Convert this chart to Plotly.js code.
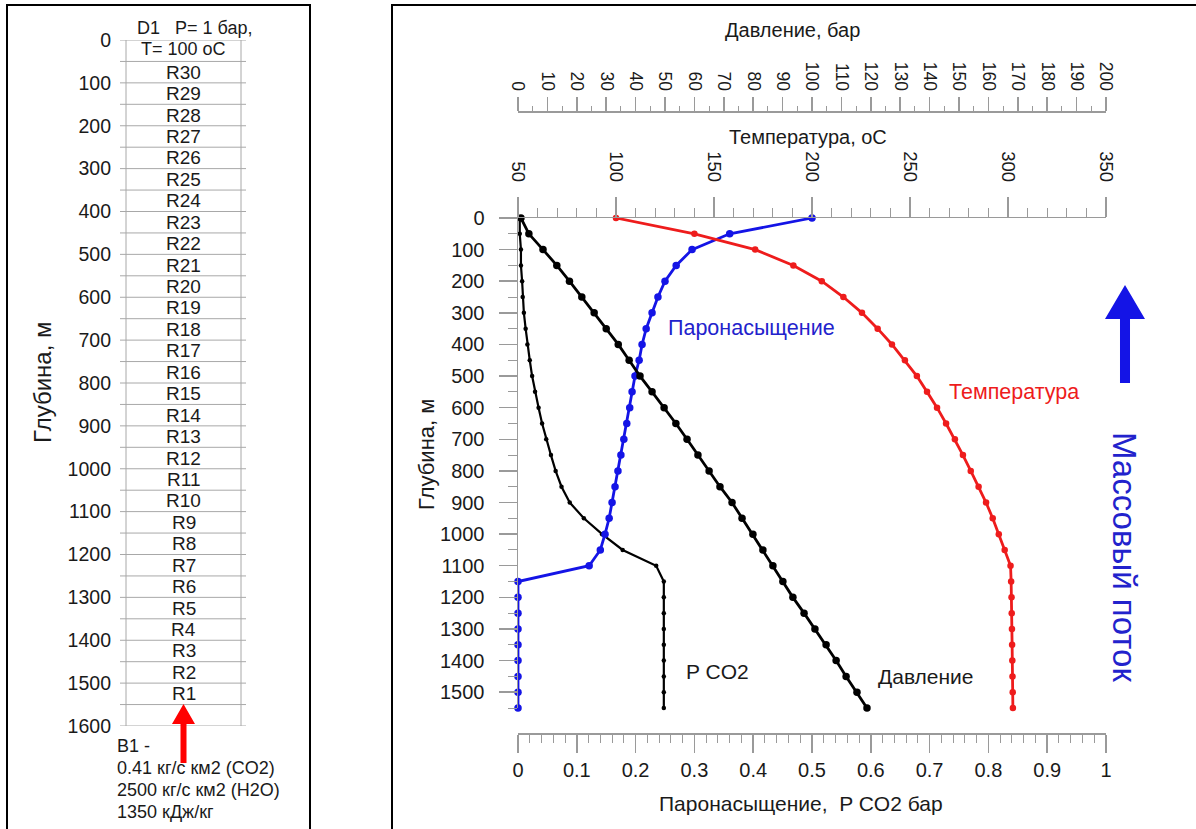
<!DOCTYPE html>
<html>
<head>
<meta charset="utf-8">
<script src="https://cdn.plot.ly/plotly-3.0.1.min.js"></script>
<style>html,body{margin:0;padding:0;background:#fff;}#chart{width:1196px;height:829px;}</style>
</head>
<body>
<div id="chart"></div>
<script>
// ---- data ----
const depth = [0,50,100,150,200,250,300,350,400,450,500,550,600,650,700,750,800,850,900,950,1000,1050,1100,1150,1200,1250,1300,1350,1400,1450,1500,1550];
const temperature = [100,140,171,190.5,205,216,225.5,233.5,240.8,247.4,253.5,258.7,263.8,268.4,272.9,277,281,285,288.8,292.2,295.3,298.3,301.3,301.6,301.8,301.9,302,302.1,302.2,302.3,302.4,302.5];
const pressure = [1,3.7,8.5,13.2,17.5,21.7,25.9,30,34.1,37.8,41.5,45.6,49.7,53.7,57.5,61.2,65,68.7,72.8,76.2,79.9,83.3,86.7,90.1,93.5,97.3,101,104.8,108.2,111.6,115.3,118.7];
const saturation = [0.5,0.36,0.296,0.269,0.25,0.238,0.228,0.218,0.211,0.206,0.199,0.194,0.19,0.185,0.18,0.175,0.17,0.165,0.16,0.155,0.148,0.14,0.121,0,0,0,0,0,0,0,0,0];
const pco2 = [0.003,0.003,0.005,0.005,0.007,0.008,0.010,0.013,0.016,0.02,0.024,0.029,0.035,0.041,0.048,0.056,0.064,0.074,0.088,0.112,0.143,0.178,0.235,0.248,0.248,0.248,0.248,0.248,0.248,0.248,0.248,0.248];

// left column: layer names (top to bottom) and boundaries
const layerNames = ["R30","R29","R28","R27","R26","R25","R24","R23","R22","R21","R20","R19","R18","R17","R16","R15","R14","R13","R12","R11","R10","R9","R8","R7","R6","R5","R4","R3","R2","R1"];
const layerTop = [50,100,150,200,250,300,350,400,450,500,550,600,650,700,750,800,850,900,950,1000,1050,1100,1150,1200,1250,1300,1350,1400,1450,1500];
const layerThickness = 50;
const boundaries = [0,50,100,150,200,250,300,350,400,450,500,550,600,650,700,750,800,850,900,950,1000,1050,1100,1150,1200,1250,1300,1350,1400,1450,1500,1550,1600];
const bottomLines = ["B1 -","0.41 кг/с км2 (CO2)","2500 кг/с км2 (H2O)","1350 кДж/кг"];

// ---- helpers (pixel -> paper) ----
const W = 1196, H = 829;
const px = x => x / W;
const py = y => 1 - y / H;
const FONT = "Liberation Sans, Arial, sans-serif";
const AX = '#9a9a9a';
const TXT = '#1a1a1a';
const RED = '#ee1c1c', BLUE = '#1414e6', BLUETXT = '#2222cc';

const traces = [
  {x: pco2, y: depth, xaxis: 'x', yaxis: 'y', mode: 'lines+markers', cliponaxis: false,
   line: {color: '#000', width: 2.2}, marker: {color: '#000', size: 4.5}},
  {x: pressure, y: depth, xaxis: 'x3', yaxis: 'y', mode: 'lines+markers', cliponaxis: false,
   line: {color: '#000', width: 2.8}, marker: {color: '#000', size: 7.5}},
  {x: temperature, y: depth, xaxis: 'x2', yaxis: 'y', mode: 'lines+markers', cliponaxis: false,
   line: {color: RED, width: 2.8}, marker: {color: RED, size: 6.5}},
  {x: saturation, y: depth, xaxis: 'x', yaxis: 'y', mode: 'lines+markers', cliponaxis: false,
   line: {color: BLUE, width: 2.8}, marker: {color: BLUE, size: 7.5}}
];

const shapes = [];
// panel borders
shapes.push({type: 'rect', xref: 'paper', yref: 'paper', x0: px(7), x1: px(310), y0: py(845), y1: py(5), line: {color: '#000', width: 2}});
shapes.push({type: 'rect', xref: 'paper', yref: 'paper', x0: px(392), x1: px(1215), y0: py(845), y1: py(5), line: {color: '#000', width: 2}});
// left column lines
boundaries.forEach(b => shapes.push({type: 'line', xref: 'paper', yref: 'y2', x0: px(120), x1: px(246), y0: b, y1: b, line: {color: '#a8a8a8', width: 1}}));
[126, 241].forEach(xx => shapes.push({type: 'line', xref: 'paper', yref: 'y2', x0: px(xx), x1: px(xx), y0: boundaries[0], y1: boundaries[boundaries.length-1], line: {color: '#a8a8a8', width: 1}}));

function arrowPath(pts) {
  return 'M ' + pts.map(p => px(p[0]).toFixed(5) + ' ' + py(p[1]).toFixed(5)).join(' L ') + ' Z';
}
// blue mass flow arrow
shapes.push({type: 'path', xref: 'paper', yref: 'paper', fillcolor: BLUE, line: {color: BLUE, width: 0},
  path: arrowPath([[1120,383],[1120,319],[1105,319],[1125,285],[1145,319],[1130,319],[1130,383]])});
// red inflow arrow
shapes.push({type: 'path', xref: 'paper', yref: 'paper', fillcolor: '#ff0000', line: {color: '#ff0000', width: 0},
  path: arrowPath([[180.5,763],[180.5,724],[172,724],[183.5,704],[195,724],[186.5,724],[186.5,763]])});

const annotations = [];
function ann(text, x, y, opts) {
  annotations.push(Object.assign({text: text, xref: 'paper', yref: 'paper', x: px(x), y: py(y),
    xanchor: 'center', yanchor: 'middle', showarrow: false, font: {family: FONT, size: 19, color: TXT}}, opts || {}));
}
// right chart titles
ann('Давление, бар', 792, 30, {font: {family: FONT, size: 20, color: TXT}});
ann('Температура, оС', 808, 137, {font: {family: FONT, size: 20, color: TXT}});
ann('Паронасыщение,  P CO2 бар', 801, 803, {font: {family: FONT, size: 21, color: TXT}});
ann('Глубина, м', 427, 455, {textangle: -90, font: {family: FONT, size: 22, color: TXT}});
// curve labels
ann('Паронасыщение', 751, 328, {font: {family: FONT, size: 21.5, color: BLUETXT}});
ann('Температура', 1014, 392, {font: {family: FONT, size: 21.5, color: RED}});
ann('P CO2', 717, 671, {font: {family: FONT, size: 21, color: TXT}});
ann('Давление', 926, 676, {font: {family: FONT, size: 21, color: TXT}});
ann('Массовый поток', 1125, 557, {textangle: 90, font: {family: FONT, size: 33, color: BLUETXT}});
// left panel texts
ann('Глубина, м', 42, 382, {textangle: -90, font: {family: FONT, size: 24, color: TXT}});
ann('D1   P= 1 бар,', 194, 28, {font: {family: FONT, size: 18, color: TXT}});
ann('T= 100 оС', 183, 49, {font: {family: FONT, size: 18, color: TXT}});
layerNames.forEach((n, i) => annotations.push({text: n, xref: 'x4', yref: 'y2', x: 0.5, y: layerTop[i] + layerThickness / 2,
  xanchor: 'center', yanchor: 'middle', showarrow: false, font: {family: FONT, size: 19, color: TXT}}));
bottomLines.forEach((t, i) => ann(t, 115, 746 + i * 22, {xanchor: 'left', font: {family: FONT, size: 18, color: TXT}}));

const layout = {
  width: W, height: H,
  margin: {l: 0, r: 0, t: 0, b: 0},
  paper_bgcolor: '#fff', plot_bgcolor: 'rgba(0,0,0,0)',
  showlegend: false,
  font: {family: FONT, color: TXT},
  xaxis: {domain: [px(518), px(1106)], range: [0, 1], anchor: 'free', position: py(733), side: 'bottom',
    showline: true, linecolor: AX, linewidth: 1.5, ticks: 'outside', ticklen: 18, tickcolor: AX, tickwidth: 1.5,
    tick0: 0, dtick: 0.1, showgrid: false, zeroline: false, tickfont: {family: FONT, size: 20, color: TXT},
    minor: {ticks: 'outside', dtick: 0.02, ticklen: 8, tickcolor: AX, tickwidth: 1, showgrid: false}},
  xaxis2: {overlaying: 'x', anchor: 'y', side: 'top', range: [50, 350],
    showline: true, linecolor: AX, linewidth: 1.5, ticks: 'outside', ticklen: 20, tickcolor: AX, tickwidth: 1.5,
    tick0: 50, dtick: 50, tickangle: 90, showgrid: false, zeroline: false, ticklabelstandoff: 8,
    tickfont: {family: FONT, size: 18.5, color: TXT},
    minor: {ticks: 'outside', dtick: 10, ticklen: 9, tickcolor: AX, tickwidth: 1, showgrid: false}},
  xaxis3: {overlaying: 'x', anchor: 'free', position: py(111), side: 'top', range: [0, 200],
    showline: true, linecolor: AX, linewidth: 1.5, ticks: 'outside', ticklen: 14, tickcolor: AX, tickwidth: 1.5,
    tick0: 0, dtick: 10, tickangle: 90, showgrid: false, zeroline: false, tickfont: {family: FONT, size: 17.5, color: TXT},
    minor: {ticks: 'outside', dtick: 5, ticklen: 5, tickcolor: AX, tickwidth: 1, showgrid: false}},
  yaxis: {domain: [py(708), py(218)], range: [1550, 0], anchor: 'x',
    showline: true, linecolor: AX, linewidth: 1.5, ticks: 'outside', ticklen: 18, tickcolor: AX, tickwidth: 1.5,
    tick0: 0, dtick: 100, showgrid: false, zeroline: false, ticklabelstandoff: 10, tickfont: {family: FONT, size: 20, color: TXT},
    minor: {ticks: 'outside', dtick: 50, ticklen: 9, tickcolor: AX, tickwidth: 1, showgrid: false}},
  xaxis4: {domain: [px(126), px(241)], range: [0, 1], anchor: 'y2', visible: false, fixedrange: true},
  yaxis2: {domain: [py(726), py(40)], range: [1600, 0], anchor: 'x4',
    showline: false, ticks: '', tick0: 0, dtick: 100, showgrid: false, zeroline: false,
    ticklabelstandoff: 14, tickfont: {family: FONT, size: 19.5, color: TXT}},
  shapes: shapes,
  annotations: annotations
};

Plotly.newPlot('chart', traces, layout, {displayModeBar: false, staticPlot: true});
</script>
</body>
</html>
